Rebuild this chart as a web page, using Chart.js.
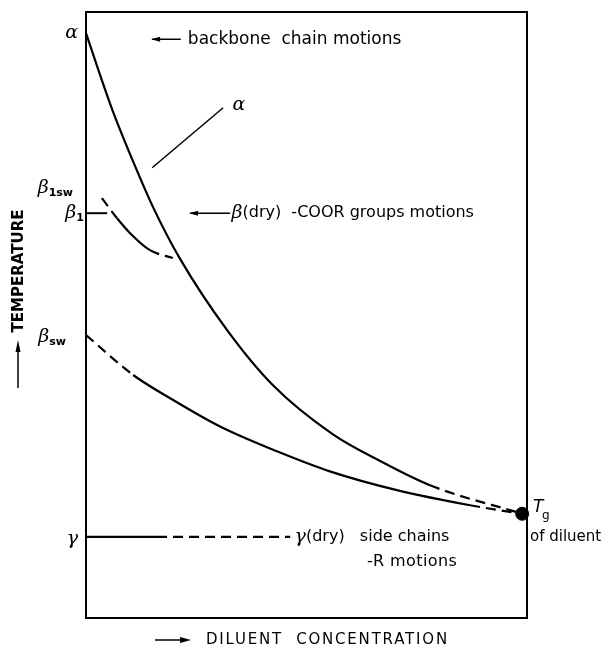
<!DOCTYPE html>
<html>
<head>
<meta charset="utf-8">
<script src="https://cdn.jsdelivr.net/npm/chart.js@4.4.1/dist/chart.umd.min.js"></script>
<style>
  body { margin: 0; background: #fff; }
  #wrap { width: 604px; height: 649px; }
</style>
</head>
<body>
<div id="wrap"><canvas id="relaxChart" width="604" height="649"></canvas></div>
<script>
// diluent concentration (x, 0-100) vs temperature (y, arbitrary 0-100)
const alphaX = [0, 3.2, 6.1, 10.7, 15.2, 21.3, 32.0, 42.4, 56.0, 66.7, 78.0, 98.9];
const alphaY = [96.5, 89.6, 83.6, 75.3, 67.8, 59.3, 47.5, 38.4, 30.3, 25.9, 21.9, 17.2];
const alphaDashed = [10];

const betaSwX = [0, 10.7, 19.0, 30.4, 44.0, 55.3, 70.5, 87.1, 98.9];
const betaSwY = [46.7, 40.1, 36.3, 31.6, 27.3, 24.2, 21.1, 18.6, 17.2];
const betaSwDashed = [0, 7];

const beta1X = [3.6, 7.0, 10.0, 14.5, 19.7];
const beta1Y = [69.3, 66.0, 63.5, 60.7, 59.4];
const beta1Dashed = [0, 3];

const gammaX = [0, 16.1, 46.3];
const gammaY = [13.4, 13.4, 13.4];
const gammaDashed = [1];

const tgPoint = [98.9, 17.2];

// left-hand level labels: [symbol, subscript, temperature]
const levelLabels = [
  ["α", "", 96.5],
  ["β", "1sw", 71.0],
  ["β", "1", 66.8],
  ["β", "sw", 46.4],
  ["γ", "", 13.0],
];

function pts(xs, ys) {
  return xs.map((x, i) => ({ x: x, y: ys[i] }));
}

function curve(xs, ys, dashed) {
  return {
    data: pts(xs, ys),
    showLine: true,
    borderColor: "#000",
    borderWidth: 2.2,
    pointRadius: 0,
    cubicInterpolationMode: "monotone",
    segment: {
      borderDash: (ctx) => (dashed.includes(ctx.p0DataIndex) ? [10, 6] : undefined),
    },
  };
}

const SANS = '"DejaVu Sans", sans-serif';
const GREEK = '"DejaVu Serif", serif';

function arrowLeft(ctx, x1, x2, y) {
  ctx.beginPath();
  ctx.moveTo(x1, y);
  ctx.lineTo(x2, y);
  ctx.lineWidth = 1.5;
  ctx.stroke();
  ctx.beginPath();
  ctx.moveTo(x1 - 1, y);
  ctx.lineTo(x1 + 8, y - 2.5);
  ctx.lineTo(x1 + 8, y + 2.5);
  ctx.closePath();
  ctx.fill();
}

const figurePlugin = {
  id: "figure",
  beforeDatasetsDraw(chart) {
    const { ctx, chartArea: a } = chart;
    ctx.save();
    ctx.strokeStyle = "#000";
    ctx.lineWidth = 2;
    ctx.strokeRect(a.left, a.top, a.right - a.left, a.bottom - a.top);
    ctx.restore();
  },
  afterDraw(chart) {
    const { ctx, chartArea: a } = chart;
    const xs = chart.scales.x;
    const ys = chart.scales.y;
    ctx.save();
    ctx.fillStyle = "#000";
    ctx.strokeStyle = "#000";
    ctx.textBaseline = "middle";

    // level labels left of the axis
    levelLabels.forEach(([sym, sub, t], i) => {
      const y = ys.getPixelForValue(t);
      const endX = [78, 73, 84, 66, 78][i];
      ctx.font = "italic 19px " + GREEK;
      const w1 = ctx.measureText(sym).width;
      ctx.font = "bold 11px " + SANS;
      const w2 = sub ? ctx.measureText(sub).width : 0;
      const x0 = endX - w1 - w2;
      ctx.textAlign = "left";
      ctx.font = "italic 19px " + GREEK;
      ctx.fillText(sym, x0, y);
      if (sub) {
        ctx.font = "bold 11px " + SANS;
        ctx.fillText(sub, x0 + w1, y + 5);
      }
    });

    // beta1 marker tick
    const yb1 = ys.getPixelForValue(66.8);
    ctx.lineWidth = 2;
    ctx.beginPath();
    ctx.moveTo(a.left, yb1);
    ctx.lineTo(xs.getPixelForValue(4.8), yb1);
    ctx.stroke();

    // backbone annotation
    const yBack = ys.getPixelForValue(95.5);
    arrowLeft(ctx, xs.getPixelForValue(15.0), xs.getPixelForValue(21.5), yBack);
    ctx.font = "17px " + SANS;
    ctx.textAlign = "left";
    ctx.fillText("backbone  chain motions", xs.getPixelForValue(23.1), yBack);

    // alpha pointer
    ctx.lineWidth = 1.5;
    ctx.beginPath();
    ctx.moveTo(xs.getPixelForValue(15.0), ys.getPixelForValue(74.3));
    ctx.lineTo(xs.getPixelForValue(31.1), ys.getPixelForValue(84.2));
    ctx.stroke();
    ctx.font = "italic 19px " + GREEK;
    ctx.fillText("α", xs.getPixelForValue(33.2), ys.getPixelForValue(84.6));

    // beta(dry) annotation
    const yDry = ys.getPixelForValue(66.8);
    arrowLeft(ctx, xs.getPixelForValue(23.6), xs.getPixelForValue(32.7), yDry);
    let x = xs.getPixelForValue(33.0);
    ctx.font = "italic 19px " + GREEK;
    ctx.fillText("β", x, yDry);
    x += ctx.measureText("β").width;
    ctx.font = "16px " + SANS;
    ctx.fillText("(dry)  -COOR groups motions", x, yDry);

    // gamma(dry) annotation
    const yG = ys.getPixelForValue(13.4);
    x = xs.getPixelForValue(47.3);
    ctx.font = "italic 19px " + GREEK;
    ctx.fillText("γ", x, yG);
    x += ctx.measureText("γ").width;
    ctx.font = "16px " + SANS;
    ctx.fillText("(dry)", x, yG);
    ctx.fillText("side chains", xs.getPixelForValue(62.1), yG);
    ctx.letterSpacing = "0.4px";
    ctx.fillText("-R motions", xs.getPixelForValue(63.7), ys.getPixelForValue(9.2));
    ctx.letterSpacing = "0px";

    // Tg of diluent
    const yT = ys.getPixelForValue(tgPoint[1]);
    ctx.font = "italic 17px " + SANS;
    ctx.fillText("T", a.right + 6, yT - 6);
    ctx.font = "12px " + SANS;
    ctx.fillText("g", a.right + 15, yT + 2);
    ctx.font = "15px " + SANS;
    ctx.fillText("of diluent", a.right + 3, ys.getPixelForValue(13.4));

    // x axis title
    const yX = 640;
    ctx.lineWidth = 1.5;
    ctx.beginPath();
    ctx.moveTo(155, yX);
    ctx.lineTo(185, yX);
    ctx.stroke();
    ctx.beginPath();
    ctx.moveTo(191, yX);
    ctx.lineTo(180, yX - 3);
    ctx.lineTo(180, yX + 3);
    ctx.closePath();
    ctx.fill();
    ctx.font = "15px " + SANS;
    ctx.letterSpacing = "1.8px";
    ctx.fillText("DILUENT  CONCENTRATION", 206, yX);
    ctx.letterSpacing = "0px";

    // y axis title
    ctx.save();
    ctx.translate(19, 271);
    ctx.rotate(-Math.PI / 2);
    ctx.font = "bold 15px " + SANS;
    ctx.textAlign = "center";
    ctx.fillText("TEMPERATURE", 0, 0);
    ctx.restore();
    ctx.lineWidth = 1.5;
    ctx.beginPath();
    ctx.moveTo(18, 388);
    ctx.lineTo(18, 348);
    ctx.stroke();
    ctx.beginPath();
    ctx.moveTo(18, 340);
    ctx.lineTo(15.5, 352);
    ctx.lineTo(20.5, 352);
    ctx.closePath();
    ctx.fill();

    ctx.restore();
  },
};

const relaxCtx = document.getElementById("relaxChart").getContext("2d");
const relaxChart = new Chart(relaxCtx, {
  type: "scatter",
  data: {
    datasets: [
      curve(alphaX, alphaY, alphaDashed),
      curve(betaSwX, betaSwY, betaSwDashed),
      curve(beta1X, beta1Y, beta1Dashed),
      curve(gammaX, gammaY, gammaDashed),
      {
        data: [{ x: tgPoint[0], y: tgPoint[1] }],
        pointRadius: 6.5,
        backgroundColor: "#000",
        borderColor: "#000",
        clip: false,
      },
    ],
  },
  options: {
    responsive: false,
    animation: false,
    layout: {
      padding: { left: 86, right: 77, top: 12, bottom: 31 },
    },
    scales: {
      x: { type: "linear", min: 0, max: 100, display: false },
      y: { type: "linear", min: 0, max: 100, display: false },
    },
    plugins: {
      legend: { display: false },
      tooltip: { enabled: false },
    },
  },
  plugins: [figurePlugin],
});
</script>
</body>
</html>
